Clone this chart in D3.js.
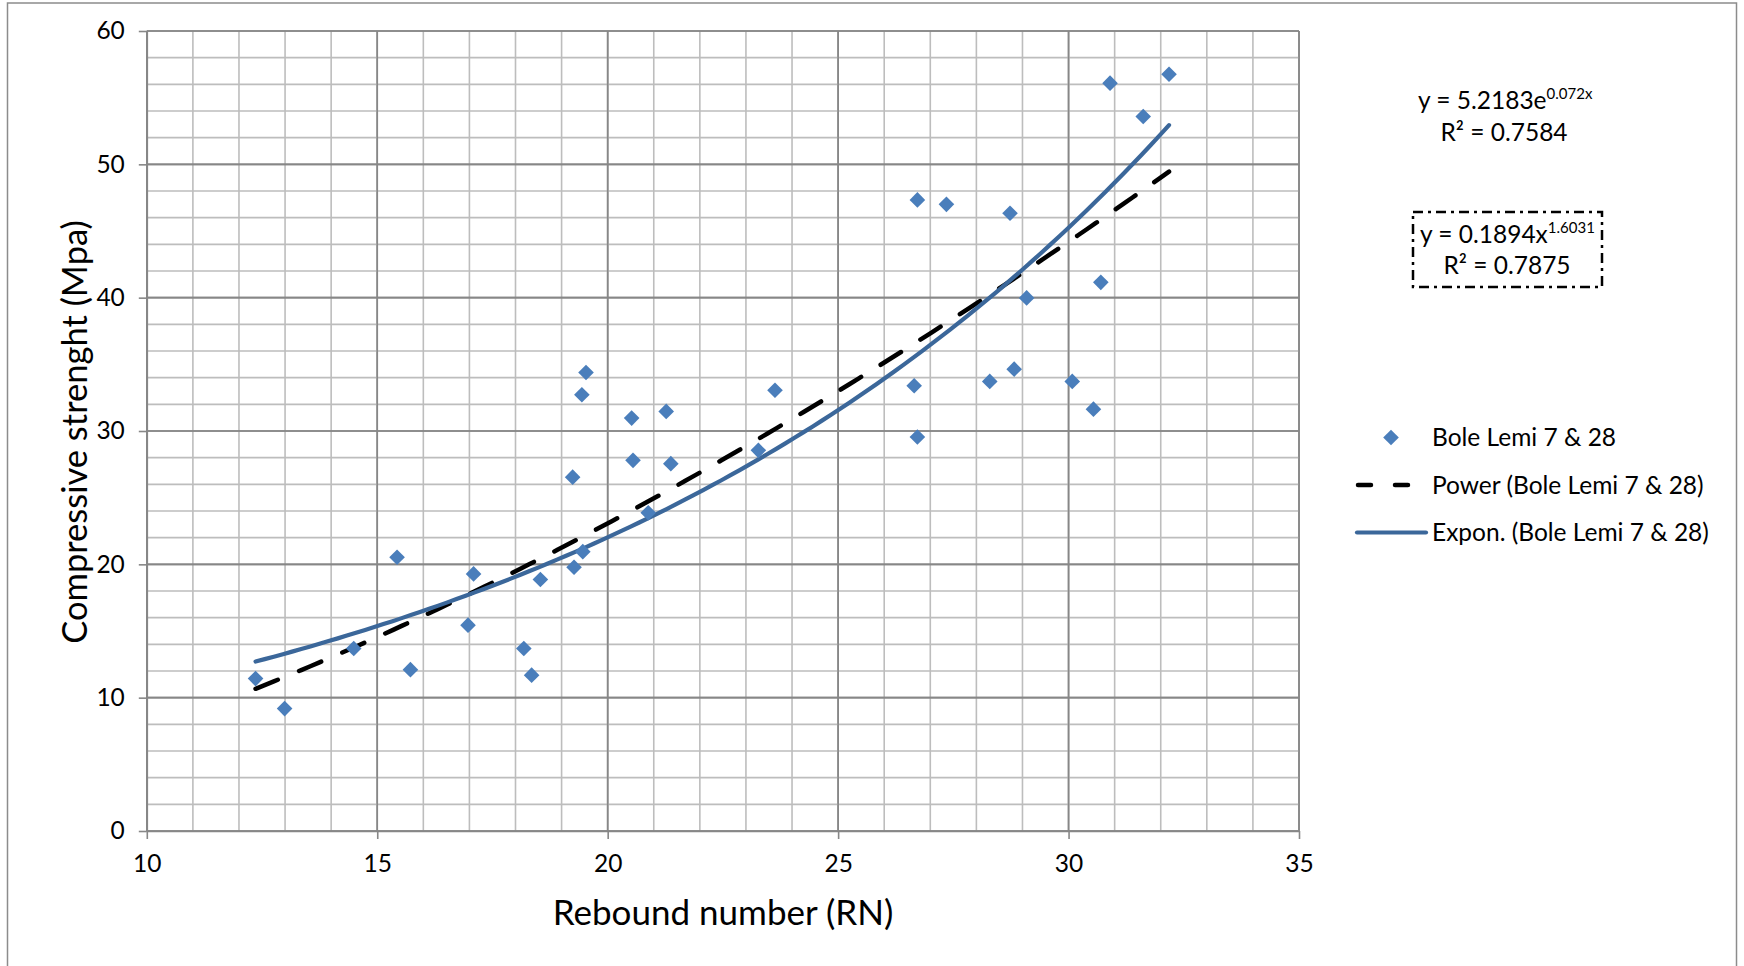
<!DOCTYPE html>
<html>
<head>
<meta charset="utf-8">
<script src="https://cdn.jsdelivr.net/npm/d3@7"></script>
<style>
  html, body { margin: 0; padding: 0; background: #fff; }
  svg { display: block; }
  text { font-family: Lato, "Open Sans", sans-serif; fill: #000; }
</style>
</head>
<body>
<svg id="chart" width="1744" height="966"></svg>
<script>
// ---------- data ----------
const seriesName = "Bole Lemi 7 & 28";
const reboundNumber = [12.36, 12.99, 14.49, 15.43, 15.72, 16.97, 17.09, 18.18, 18.35, 18.54,
  19.24, 19.27, 19.44, 19.46, 19.53, 20.52, 20.55, 20.88, 21.27, 21.37,
  23.27, 23.63, 26.65, 26.72, 26.72, 27.35, 28.29, 28.73, 28.82, 29.09,
  30.08, 30.54, 30.70, 30.90, 31.62, 32.18];
const compressiveStrength = [11.43, 9.18, 13.69, 20.53, 12.10, 15.44, 19.28, 13.69, 11.69, 18.86,
  26.54, 19.78, 32.72, 20.95, 34.39, 30.97, 27.80, 23.87, 31.47, 27.55,
  28.55, 33.06, 33.39, 47.33, 29.55, 47.00, 33.72, 46.33, 34.64, 39.98,
  33.72, 31.64, 41.15, 56.09, 53.59, 56.76];
// trend line coefficients as printed on the chart
const expCoef = [5.2183, 0.072];     // y = a * e^(b x)
const powCoef = [0.1894, 1.6031];    // y = a * x^b
const expR2 = "0.7584";
const powR2 = "0.7875";
const xTicks = [10, 15, 20, 25, 30, 35];
const yTicks = [0, 10, 20, 30, 40, 50, 60];
const legendLabels = ["Bole Lemi 7 & 28", "Power (Bole Lemi 7 & 28)", "Expon. (Bole Lemi 7 & 28)"];

// ---------- layout ----------
const svg = d3.select("#chart");
const L = 146.8, R = 1299, T = 31, B = 831;
const x = d3.scaleLinear().domain([10, 35]).range([L, R]);
const y = d3.scaleLinear().domain([0, 60]).range([B, T]);

// outer border
svg.append("rect").attr("x", 7.5).attr("y", 3).attr("width", 1729).attr("height", 1000)
  .attr("fill", "none").attr("stroke", "#8c8c8c").attr("stroke-width", 1.5);

// grid
const g = svg.append("g");
const xMinor = d3.range(10, 35.001, 1);
const yMinor = d3.range(0, 60.001, 2);
g.selectAll(".vx").data(xMinor).join("line")
  .attr("x1", d => x(d)).attr("x2", d => x(d)).attr("y1", T).attr("y2", B)
  .attr("stroke", d => d % 5 === 0 ? "#878787" : "#bdbdbd").attr("stroke-width", 1.6);
g.selectAll(".hy").data(yMinor).join("line")
  .attr("y1", d => y(d)).attr("y2", d => y(d)).attr("x1", L).attr("x2", R)
  .attr("stroke", d => d % 10 === 0 ? "#878787" : "#bdbdbd").attr("stroke-width", 1.6);
g.selectAll(".vxm").data(xTicks).join("line")
  .attr("x1", d => x(d)).attr("x2", d => x(d)).attr("y1", T).attr("y2", B)
  .attr("stroke", "#878787").attr("stroke-width", 1.6);
g.selectAll(".hym").data(yTicks).join("line")
  .attr("y1", d => y(d)).attr("y2", d => y(d)).attr("x1", L).attr("x2", R)
  .attr("stroke", "#878787").attr("stroke-width", 1.6);

// axes
const xAxis = d3.axisBottom(x).tickValues(xTicks).tickSize(8).tickSizeOuter(0).tickPadding(16);
const yAxis = d3.axisLeft(y).tickValues(yTicks).tickSize(8).tickSizeOuter(0).tickPadding(14);
const gx = svg.append("g").attr("transform", `translate(0,${B})`).call(xAxis);
const gy = svg.append("g").attr("transform", `translate(${L},0)`).call(yAxis);
[gx, gy].forEach(a => {
  a.select(".domain").attr("stroke", "#878787").attr("stroke-width", 1.6);
  a.selectAll(".tick line").attr("stroke", "#878787").attr("stroke-width", 1.6);
  a.selectAll(".tick text").attr("font-family", "Lato, 'Open Sans', sans-serif")
    .attr("font-size", 24.5).attr("fill", "#000");
});

// axis titles
svg.append("text").attr("x", 723).attr("y", 925).attr("text-anchor", "middle")
  .attr("font-size", 35).text("Rebound number (RN)");
svg.append("text").attr("transform", "translate(87,432) rotate(-90)").attr("text-anchor", "middle")
  .attr("font-size", 34.5).text("Compressive strenght (Mpa)");

// trend lines
const xmin = d3.min(reboundNumber), xmax = d3.max(reboundNumber);
const xs = d3.range(0, 101).map(i => xmin + (xmax - xmin) * i / 100);
const line = d3.line().x(d => x(d[0])).y(d => y(d[1]));
svg.append("path")
  .attr("d", line(xs.map(v => [v, powCoef[0] * Math.pow(v, powCoef[1])])))
  .attr("fill", "none").attr("stroke", "#000").attr("stroke-width", 4.5)
  .attr("stroke-linecap", "round").attr("stroke-dasharray", "24,23");
svg.append("path")
  .attr("d", line(xs.map(v => [v, expCoef[0] * Math.exp(expCoef[1] * v)])))
  .attr("fill", "none").attr("stroke", "#3b679a").attr("stroke-width", 4.2)
  .attr("stroke-linecap", "round");

// points
const diamond = d3.symbol(d3.symbolSquare, 122);
svg.append("g").selectAll("path").data(d3.zip(reboundNumber, compressiveStrength)).join("path")
  .attr("d", diamond)
  .attr("transform", d => `translate(${x(d[0])},${y(d[1])}) rotate(45)`)
  .attr("fill", "#4a7ebb");

// equations
const eq1 = svg.append("text").attr("x", 1418).attr("y", 109).attr("font-size", 24.5);
eq1.append("tspan").text(`y = ${expCoef[0]}e`);
eq1.append("tspan").attr("dy", -10).attr("font-size", 15).text(`${expCoef[1]}x`);
svg.append("text").attr("x", 1504).attr("y", 141).attr("text-anchor", "middle")
  .attr("font-size", 24.5).text(`R² = ${expR2}`);

svg.append("rect").attr("x", 1413).attr("y", 212).attr("width", 189).attr("height", 75)
  .attr("fill", "none").attr("stroke", "#000").attr("stroke-width", 2.5)
  .attr("stroke-dasharray", "10,5,3,5");
const eq2 = svg.append("text").attr("x", 1420).attr("y", 243).attr("font-size", 24.5);
eq2.append("tspan").text(`y = ${powCoef[0]}x`);
eq2.append("tspan").attr("dy", -10).attr("font-size", 15).text(`${powCoef[1]}`);
svg.append("text").attr("x", 1507).attr("y", 274).attr("text-anchor", "middle")
  .attr("font-size", 24.5).text(`R² = ${powR2}`);

// legend
const lg = svg.append("g");
const rowsY = [437.5, 485, 532.5];
lg.append("path").attr("d", diamond)
  .attr("transform", `translate(1391,${rowsY[0]}) rotate(45)`).attr("fill", "#4a7ebb");
lg.append("line").attr("x1", 1358).attr("x2", 1410).attr("y1", rowsY[1]).attr("y2", rowsY[1])
  .attr("stroke", "#000").attr("stroke-width", 4.5).attr("stroke-linecap", "round")
  .attr("stroke-dasharray", "13,24");
lg.append("line").attr("x1", 1357).attr("x2", 1426).attr("y1", rowsY[2]).attr("y2", rowsY[2])
  .attr("stroke", "#3b679a").attr("stroke-width", 4.2).attr("stroke-linecap", "round");
lg.selectAll("text.lab").data(legendLabels).join("text")
  .attr("x", 1432).attr("y", (d, i) => rowsY[i] + 8.5).attr("font-size", 24.5).text(d => d);
</script>
</body>
</html>
